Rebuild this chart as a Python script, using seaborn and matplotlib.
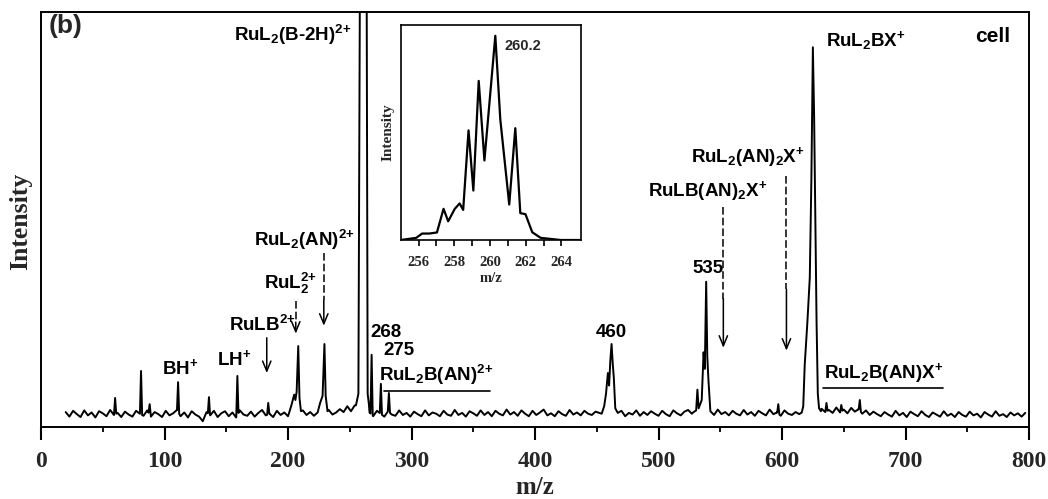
import numpy as np
import pandas as pd
import matplotlib
matplotlib.use("Agg")
import matplotlib.pyplot as plt
import seaborn as sns

# ---------------- data ----------------
# baseline (noise) of the spectrum, one value every 3 m/z starting at m/z 20
baseline_start = 20
baseline_step = 3
baseline_int = [
    3.6, 2.5, 3.9, 3.1, 2.4, 4.0, 2.8, 3.5, 2.3, 3.8, 3.3, 2.6, 4.1, 2.9, 3.4, 2.4, 3.7, 3.0, 2.5, 3.9,
    3.2, 2.7, 4.0, 2.5, 3.6, 3.1, 2.4, 3.9, 2.8, 3.3, 4.1, 2.6, 3.5, 2.3, 3.8, 3.0, 2.5, 1.4, 3.6, 2.8,
    3.9, 2.4, 3.3, 3.8, 2.6, 3.5, 2.3, 4.0, 3.0, 2.7, 3.7, 2.5, 3.4, 4.1, 2.8, 3.2, 2.4, 3.9, 2.9, 3.5,
    2.6, 3.8, 3.1, 2.5, 4.0, 2.9, 3.6, 2.7, 3.9, 3.3, 2.8, 4.1, 3.0, 3.5, 4.3, 3.6, 5.0, 3.8, 5.2, 5.6,
    4.1, 2.8, 3.5, 2.6, 3.9, 3.2, 2.5, 3.8, 3.0, 2.7, 4.0, 2.9, 3.4, 2.5, 3.7, 3.1, 2.6, 4.0, 2.8, 3.5,
    3.2, 2.6, 3.9, 3.0, 2.7, 4.1, 2.9, 3.4, 2.5, 3.8, 3.3, 2.7, 4.0, 2.9, 3.6, 2.6, 3.9, 3.2, 2.8, 4.2,
    3.0, 3.6, 2.7, 4.0, 3.2, 2.6, 3.9, 2.9, 3.5, 4.2, 2.8, 3.3, 2.6, 3.8, 3.1, 2.7, 4.1, 3.0, 3.5, 2.8,
    3.9, 3.2, 2.9, 3.7, 3.4, 4.0, 4.4, 3.6, 3.3, 2.8, 3.9, 2.6, 3.4, 3.0, 4.0, 2.7, 3.6, 2.9, 3.8, 3.2,
    2.7, 3.9, 3.1, 2.6, 4.0, 3.3, 2.8, 3.7, 4.1, 3.2, 4.4, 3.5, 4.0, 3.0, 3.7, 2.9, 4.2, 3.1, 3.6, 2.8,
    3.9, 3.2, 2.8, 4.1, 3.0, 3.6, 2.7, 3.9, 3.3, 2.8, 4.2, 3.1, 3.5, 2.7, 4.0, 3.2, 2.9, 3.6, 3.1, 3.4,
    4.0, 3.3, 3.8, 3.1, 4.4, 3.6, 4.1, 3.4, 4.7, 3.5, 4.2, 3.3, 4.6, 3.7, 4.3, 3.2, 4.0, 2.9, 3.7, 3.1,
    2.6, 3.6, 3.0, 2.5, 3.9, 2.8, 3.4, 2.4, 3.7, 3.1, 2.6, 3.8, 2.9, 2.4, 3.5, 3.0, 2.5, 3.8, 2.7, 3.2,
    2.4, 3.6, 2.9, 2.5, 3.7, 2.8, 3.2, 2.3, 3.6, 3.0, 2.5, 3.8, 2.7, 3.1, 2.4, 3.5, 2.8, 3.3, 2.5, 3.4,
]

# narrow single peaks (m/z, height)
stick_mz = [60, 81, 88, 111, 136, 159, 184, 267.7, 275.2, 281.7, 597, 636, 648, 663]
stick_h = [7.0, 13.5, 5.5, 10.8, 7.2, 12.3, 5.8, 17.4, 10.4, 8.2, 5.5, 5.8, 5.3, 6.5]

# profiled peaks
p208_mz = [201.0, 203.0, 205.0, 206.0, 207.0, 208.3, 209.3, 210.5]
p208_int = [3.5, 5.5, 7.8, 6.5, 8.5, 19.5, 7.0, 3.8]
p230_mz = [224.0, 226.0, 228.0, 229.5, 230.5, 232.0]
p230_int = [3.5, 5.8, 7.5, 20.0, 7.5, 3.8]
p260_mz = [255.0, 257.0, 258.5, 263.5, 264.5, 265.5]
p260_int = [5.2, 8.0, 130.0, 130.0, 8.0, 5.5]
p460_mz = [454.0, 456.0, 457.5, 459.0, 460.0, 461.0, 462.0, 463.0, 463.8, 465.0, 467.0]
p460_int = [3.2, 5.0, 8.0, 13.0, 10.0, 16.0, 20.0, 15.0, 12.0, 4.5, 3.4]
p535_mz = [528.0, 530.5, 531.5, 532.5, 535.0, 536.5, 537.5, 538.6, 539.5, 540.5, 542.0]
p535_int = [3.5, 4.0, 9.0, 4.5, 6.5, 18.0, 14.0, 35.0, 17.0, 11.0, 3.8]
p624_mz = [616.0, 617.2, 618.4, 620.5, 622.5, 623.8, 625.0, 626.0, 627.0, 628.0, 629.0, 630.0, 631.5]
p624_int = [3.5, 5.0, 15.0, 25.0, 36.0, 60.0, 91.5, 75.0, 50.0, 25.0, 8.0, 4.5, 3.8]

# inset: isotope pattern around m/z 260
inset_mz = [255.0, 255.87, 256.2, 256.6, 257.03, 257.4, 257.66, 258.03, 258.3, 258.5, 258.8,
            259.07, 259.37, 259.69, 260.3, 260.58, 261.08, 261.42, 261.7, 261.99, 262.37,
            262.84, 263.97, 265.0]
inset_int = [0.0, 0.01, 0.03, 0.03, 0.035, 0.145, 0.087, 0.145, 0.17, 0.14, 0.51,
             0.23, 0.74, 0.37, 0.95, 0.56, 0.165, 0.52, 0.125, 0.12, 0.036,
             0.01, 0.0, 0.0]

x_ticks = [0, 100, 200, 300, 400, 500, 600, 700, 800]
x_tick_labels = ["0", "100", "200", "300", "400", "500", "600", "700", "800"]
inset_ticks = [256, 258, 260, 262, 264]
inset_tick_labels = ["256", "258", "260", "262", "264"]

# ---------------- assemble spectrum ----------------
base_mz = baseline_start + baseline_step * np.arange(len(baseline_int))
base_int = np.array(baseline_int, dtype=float)

segments = [(p208_mz, p208_int), (p230_mz, p230_int), (p260_mz, p260_int),
            (p460_mz, p460_int), (p535_mz, p535_int), (p624_mz, p624_int)]
for c, h in zip(stick_mz, stick_h):
    lo, hi = c - 0.9, c + 0.9
    segments.append(([lo, c, hi],
                     [np.interp(lo, base_mz, base_int), h, np.interp(hi, base_mz, base_int)]))

keep = np.ones(len(base_mz), dtype=bool)
all_mz, all_int = [], []
for smz, sint in segments:
    keep &= ~((base_mz >= min(smz)) & (base_mz <= max(smz)))
    all_mz.extend(smz)
    all_int.extend(sint)
all_mz.extend(base_mz[keep])
all_int.extend(base_int[keep])
spec = pd.DataFrame({"mz": all_mz, "intensity": all_int}).sort_values("mz").reset_index(drop=True)
inset_df = pd.DataFrame({"mz": inset_mz, "intensity": inset_int})

# ---------------- style ----------------
sns.set_theme(style="ticks")
plt.rcParams["font.family"] = ["Liberation Sans", "DejaVu Sans"]
plt.rcParams["mathtext.default"] = "regular"

W, H = 1048, 499
fig = plt.figure(figsize=(W / 100, H / 100), dpi=100)
ax = fig.add_axes([41 / W, 1 - 427 / H, 988 / W, 415 / H])

sns.lineplot(data=spec, x="mz", y="intensity", estimator=None, sort=False,
             color="black", lw=1.4, ax=ax)
ax.set_xlim(0, 800)
ax.set_ylim(0, 100)
ax.set_yticks([])
ax.set_xticks(x_ticks)
ax.set_xticklabels(x_tick_labels, fontfamily="Liberation Serif", fontweight="bold", fontsize=17)
ax.set_xticks(np.arange(50, 800, 100), minor=True)
ax.tick_params(axis="x", which="major", direction="out", length=9, width=1.5, pad=8.5, color="black")
ax.tick_params(axis="x", which="minor", direction="out", length=3.5, width=1.3, color="black")
for s in ax.spines.values():
    s.set_visible(True)
    s.set_linewidth(1.4)
    s.set_color("black")
ax.set_xlabel("m/z", fontfamily="Liberation Serif", fontweight="bold", fontsize=18, labelpad=3)
ax.set_ylabel("Intensity", fontfamily="Liberation Serif", fontweight="bold", fontsize=18.5,
              va="center")
ax.yaxis.set_label_coords(-0.021, 0.495)

lab = dict(fontfamily="Liberation Sans", fontweight="bold", fontsize=13.5, color="black",
           ha="center", va="center")
ax.text(0.008, 0.966, "(b)", transform=ax.transAxes, ha="left", va="center",
        fontfamily="Liberation Sans", fontweight="bold", fontsize=19)
ax.text(771, 94.2, "cell", **{**lab, "fontsize": 15})
ax.text(204, 94.5, "RuL$_2$(B-2H)$^{2{+}}$", **lab)
ax.text(668, 93.2, "RuL$_2$BX$^{+}$", **lab)
ax.text(572.5, 65.0, "RuL$_2$(AN)$_2$X$^{+}$", **lab)
ax.text(540, 56.8, "RuLB(AN)$_2$X$^{+}$", **lab)
ax.text(540, 38.2, "535", **lab)
ax.text(462, 22.7, "460", **lab)
ax.text(279.5, 22.8, "268", **lab)
ax.text(289.5, 18.4, "275", **lab)
ax.text(320, 12.5, "RuL$_2$B(AN)$^{2{+}}$", **lab)
ax.text(682.5, 13.0, "RuL$_2$B(AN)X$^{+}$", **lab)
ax.text(213.5, 45.0, "RuL$_2$(AN)$^{2{+}}$", **lab)
ax.text(202, 34.5, "RuL$_2^{2{+}}$", **lab)
ax.text(179, 24.6, "RuLB$^{2{+}}$", **lab)
ax.text(156.5, 16.5, "LH$^{+}$", **lab)
ax.text(112.5, 14.1, "BH$^{+}$", **lab)

# underlines
ax.plot([278, 363.5], [8.7, 8.7], color="black", lw=1.2)
ax.plot([633.5, 730], [9.4, 9.4], color="black", lw=1.2)

# arrows
def arrow(x, y0, y1, dashed=False):
    if dashed:
        mid = y1 + (y0 - y1) * 0.35
        ax.plot([x, x], [y0, mid], color="black", lw=1.1, ls=(0, (5, 2)))
        y0 = mid
    ax.annotate("", xy=(x, y1), xytext=(x, y0),
                arrowprops=dict(arrowstyle="->,head_length=0.6,head_width=0.25",
                                color="black", lw=1.1, shrinkA=0, shrinkB=0))

arrow(182.8, 21.5, 13.0)
arrow(206.3, 30.4, 22.5, dashed=True)
arrow(229.0, 42.0, 24.4, dashed=True)
arrow(552.5, 52.9, 19.1, dashed=True)
arrow(603.6, 60.6, 18.4, dashed=True)

# ---------------- inset ----------------
iax = fig.add_axes([400.7 / W, 1 - 240 / H, 180.3 / W, 215 / H])
iax.set_facecolor("white")
sns.lineplot(data=inset_df, x="mz", y="intensity", estimator=None, sort=False,
             color="black", lw=1.6, ax=iax)
iax.set_xlim(255.0, 265.1)
iax.set_ylim(0, 1.0)
iax.set_yticks([])
iax.set_xticks(inset_ticks)
iax.set_xticklabels(inset_tick_labels, fontfamily="Liberation Serif", fontweight="bold", fontsize=10.5)
iax.set_xticks([257, 259, 261, 263], minor=True)
iax.tick_params(axis="x", which="both", direction="out", length=4.5, width=1.2, pad=7, color="black")
for s in iax.spines.values():
    s.set_visible(True)
    s.set_linewidth(1.2)
    s.set_color("black")
iax.set_xlabel("m/z", fontfamily="Liberation Serif", fontweight="bold", fontsize=10.5, labelpad=2)
iax.set_ylabel("Intensity", fontfamily="Liberation Serif", fontweight="bold", fontsize=11,
               va="center")
iax.yaxis.set_label_coords(-0.07, 0.5)
iax.text(261.85, 0.90, "260.2", ha="center", va="center",
         fontfamily="Liberation Sans", fontweight="bold", fontsize=10.5)

fig.savefig("out.png", dpi=100)
